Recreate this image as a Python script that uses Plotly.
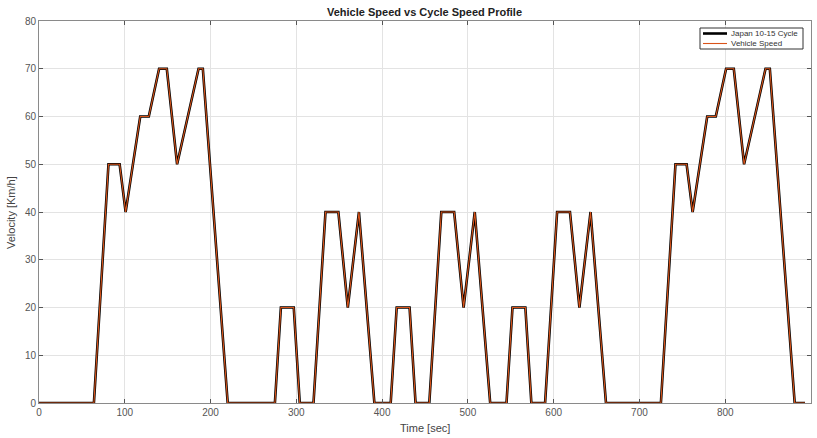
import plotly.graph_objects as go

# Time axis [sec] and speed [km/h]
time_sec = [0, 64, 81, 94, 101, 118, 128, 140, 149, 161, 186, 191, 220,
            275, 282, 297, 304, 320, 334, 349, 360, 373, 391,
            410, 417, 432, 439, 455, 469, 484, 495, 508, 526,
            545, 552, 567, 574, 590, 604, 619, 630, 643, 661,
            725, 742, 755, 762, 779, 789, 801, 810, 822, 847, 852, 881, 893]
cycle_speed = [0, 0, 50, 50, 40, 60, 60, 70, 70, 50, 70, 70, 0,
               0, 20, 20, 0, 0, 40, 40, 20, 40, 0,
               0, 20, 20, 0, 0, 40, 40, 20, 40, 0,
               0, 20, 20, 0, 0, 40, 40, 20, 40, 0,
               0, 50, 50, 40, 60, 60, 70, 70, 50, 70, 70, 0, 0]
vehicle_speed = [0, 0, 50, 50, 40, 60, 60, 70, 70, 50, 70, 70, 0,
                 0, 20, 20, 0, 0, 40, 40, 20, 40, 0,
                 0, 20, 20, 0, 0, 40, 40, 20, 40, 0,
                 0, 20, 20, 0, 0, 40, 40, 20, 40, 0,
                 0, 50, 50, 40, 60, 60, 70, 70, 50, 70, 70, 0, 0]

x_ticks = [0, 100, 200, 300, 400, 500, 600, 700, 800, 900]
y_ticks = [0, 10, 20, 30, 40, 50, 60, 70, 80]
series_names = ["Japan 10-15 Cycle", "Vehicle Speed"]
series_colors = ["#000000", "#D95319"]
series_widths = [2.6, 1.1]

FONT = "Liberation Sans, Arial, sans-serif"

fig = go.Figure()
fig.add_trace(go.Scatter(x=time_sec, y=cycle_speed, mode="lines",
                         name=series_names[0], showlegend=False,
                         line=dict(color=series_colors[0], width=series_widths[0])))
fig.add_trace(go.Scatter(x=time_sec, y=vehicle_speed, mode="lines",
                         name=series_names[1], showlegend=False,
                         line=dict(color=series_colors[1], width=series_widths[1])))

axis_common = dict(showgrid=True, gridcolor="#e3e3e3", gridwidth=1,
                   showline=True, linecolor="#8a8a8a", linewidth=1, mirror="ticks",
                   ticks="inside", ticklen=4, tickcolor="#555555",
                   zeroline=False, automargin=False,
                   tickfont=dict(family=FONT, size=10, color="#555555"))

L, R, T, B = 39, 6, 21, 35
W, H = 817, 438
pw, ph = W - L - R, H - T - B

def px_x(p):
    return (p - L) / pw

def px_y(p):
    return (H - B - p) / ph

fig.update_layout(
    width=W, height=H,
    margin=dict(l=L, r=R, t=T, b=B),
    paper_bgcolor="white", plot_bgcolor="white",
    xaxis=dict(range=[0, 900], tickvals=x_ticks, **axis_common),
    yaxis=dict(range=[0, 80], tickvals=y_ticks, **axis_common),
    showlegend=False,
)

annotations = [
    dict(text="<b>Vehicle Speed vs Cycle Speed Profile</b>", xref="paper", yref="paper",
         x=px_x(424), y=px_y(12), xanchor="center", yanchor="middle", showarrow=False,
         font=dict(family=FONT, size=11, color="#222222")),
    dict(text="Time [sec]", xref="paper", yref="paper",
         x=px_x(425), y=px_y(428), xanchor="center", yanchor="middle", showarrow=False,
         font=dict(family=FONT, size=11, color="#444444")),
    dict(text="Velocity [Km/h]", xref="paper", yref="paper", textangle=-90,
         x=px_x(11), y=px_y(213), xanchor="center", yanchor="middle", showarrow=False,
         font=dict(family=FONT, size=11, color="#444444")),
]

# Legend box (drawn in paper coordinates)
shapes = [dict(type="rect", xref="paper", yref="paper",
               x0=px_x(700), x1=px_x(803), y0=px_y(49), y1=px_y(28),
               line=dict(color="#333333", width=1), fillcolor="white", layer="above")]
legend_rows = [33.5, 43.5]
for name, color, width, yy in zip(series_names, series_colors, series_widths, legend_rows):
    shapes.append(dict(type="line", xref="paper", yref="paper",
                       x0=px_x(703), x1=px_x(727), y0=px_y(yy), y1=px_y(yy),
                       line=dict(color=color, width=width), layer="above"))
    annotations.append(dict(text=name, xref="paper", yref="paper",
                            x=px_x(729), y=px_y(yy), xanchor="left", yanchor="middle",
                            showarrow=False,
                            font=dict(family=FONT, size=8, color="#333333")))

fig.update_layout(annotations=annotations, shapes=shapes)

fig.write_html("out.html",
               config={"displayModeBar": False},
               post_script="document.body.style.margin='0';document.body.style.overflow='hidden';")
